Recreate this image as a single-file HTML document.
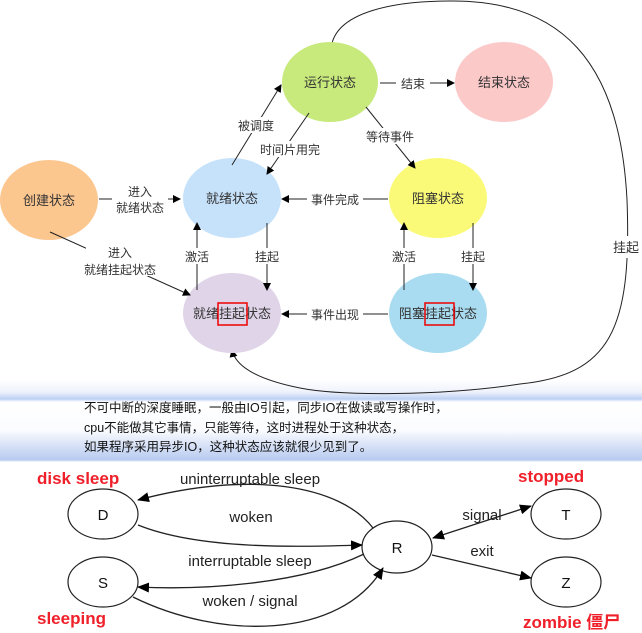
<!DOCTYPE html>
<html><head><meta charset="utf-8"><style>
html,body{margin:0;padding:0;background:#fff;}
body{width:642px;height:633px;overflow:hidden;position:relative;font-family:"Liberation Sans","Noto Sans CJK SC",sans-serif;}
svg{position:absolute;left:0;top:0;}
.band{position:absolute;left:0;top:380px;width:642px;height:82px;
background:linear-gradient(to bottom,#fff 0px,#eef2fb 12px,#bcd0f3 19px,#fff 22px,#fbfcff 50px,#dfe7f8 62px,#b7cbf0 80px,#fff 82px);}
.txt{position:absolute;left:84px;top:399px;font-size:12.5px;line-height:19.5px;color:#111;font-family:"Liberation Sans","Noto Sans CJK SC",sans-serif;}
</style></head><body>
<div class="band"></div>
<svg width="642" height="633" viewBox="0 0 642 633" font-family="Liberation Sans, Noto Sans CJK SC, sans-serif">
<defs>
<marker id="a2" markerWidth="8" markerHeight="8" refX="7" refY="4" orient="auto" markerUnits="userSpaceOnUse"><path d="M0,0 L8,4 L0,8 z" fill="#000"/></marker>
</defs>
<path d="M331,50 C333,10 400,1 450,1 C560,0 620,60 627,200 C632,330 610,375 520,384 C440,396 340,396 300,388 C260,380 236,368 232,350" fill="none" stroke="#222" stroke-width="1" marker-end="url(#a2)"/>
<rect x="610" y="236" width="30" height="22" fill="#fff"/>
<text x="626" y="252" font-size="13" text-anchor="middle" fill="#333">挂起</text>
<ellipse cx="330" cy="82" rx="48" ry="40" fill="#c8ea7c"/>
<ellipse cx="504" cy="82" rx="49" ry="40" fill="#fcc9c9"/>
<ellipse cx="49" cy="200" rx="49" ry="40" fill="#fcc68f"/>
<ellipse cx="232" cy="198" rx="49" ry="40" fill="#c6e2fb"/>
<ellipse cx="438" cy="198" rx="49" ry="40" fill="#fafa78"/>
<ellipse cx="232" cy="313" rx="49" ry="40" fill="#e0d4e8"/>
<ellipse cx="438" cy="313" rx="49" ry="40" fill="#a9dcf1"/>
<g font-size="13" fill="#333" text-anchor="middle">
<text x="330" y="87">运行状态</text>
<text x="504" y="87">结束状态</text>
<text x="49" y="205">创建状态</text>
<text x="232" y="203">就绪状态</text>
<text x="438" y="203">阻塞状态</text>
<text x="232" y="318">就绪挂起状态</text>
<text x="438" y="318">阻塞挂起状态</text>
</g>
<rect x="218" y="303" width="29" height="22" fill="none" stroke="#e00" stroke-width="1.5"/>
<rect x="425" y="303" width="29" height="22" fill="none" stroke="#e00" stroke-width="1.5"/>
<g stroke="#222" stroke-width="1" fill="none">
<line x1="380" y1="83" x2="454" y2="83" marker-end="url(#a2)"/>
<line x1="232" y1="165" x2="281" y2="85" marker-end="url(#a2)"/>
<line x1="309" y1="113" x2="267" y2="174" marker-end="url(#a2)"/>
<line x1="366" y1="107" x2="415" y2="168" marker-end="url(#a2)"/>
<line x1="99" y1="199" x2="180" y2="199" marker-end="url(#a2)"/>
<line x1="388" y1="199" x2="282" y2="199" marker-end="url(#a2)"/>
<line x1="50" y1="232" x2="190" y2="295" marker-end="url(#a2)"/>
<line x1="197" y1="290" x2="197" y2="223" marker-end="url(#a2)"/>
<line x1="267" y1="223" x2="267" y2="290" marker-end="url(#a2)"/>
<line x1="404" y1="290" x2="404" y2="223" marker-end="url(#a2)"/>
<line x1="473" y1="223" x2="473" y2="290" marker-end="url(#a2)"/>
<line x1="388" y1="314" x2="282" y2="314" marker-end="url(#a2)"/>
</g>
<g font-size="12" fill="#333" text-anchor="middle">
<rect x="396" y="75" width="34" height="16" fill="#fff"/><text x="413" y="88">结束</text>
<rect x="236" y="117" width="40" height="16" fill="#fff"/><text x="256" y="130">被调度</text>
<rect x="258" y="141" width="64" height="16" fill="#fff"/><text x="290" y="154">时间片用完</text>
<rect x="364" y="128" width="52" height="16" fill="#fff"/><text x="390" y="141">等待事件</text>
<rect x="112" y="184" width="56" height="32" fill="#fff"/><text x="140" y="196">进入</text><text x="140" y="212">就绪状态</text>
<rect x="307" y="191" width="56" height="16" fill="#fff"/><text x="335" y="204">事件完成</text>
<rect x="86" y="244" width="68" height="32" fill="#fff"/><text x="120" y="257">进入</text><text x="120" y="274">就绪挂起状态</text>
<rect x="183" y="248" width="28" height="16" fill="#fff"/><text x="197" y="261">激活</text>
<rect x="253" y="248" width="28" height="16" fill="#fff"/><text x="267" y="261">挂起</text>
<rect x="390" y="248" width="28" height="16" fill="#fff"/><text x="404" y="261">激活</text>
<rect x="459" y="248" width="28" height="16" fill="#fff"/><text x="473" y="261">挂起</text>
<rect x="307" y="306" width="56" height="16" fill="#fff"/><text x="335" y="319">事件出现</text>
</g>
</svg>
<div class="txt">不可中断的深度睡眠，一般由IO引起，同步IO在做读或写操作时，<br>cpu不能做其它事情，只能等待，这时进程处于这种状态，<br>如果程序采用异步IO，这种状态应该就很少见到了。</div>
<svg width="642" height="633" viewBox="0 0 642 633" font-family="Liberation Sans, DejaVu Sans, sans-serif">
<defs>
<marker id="c" markerWidth="12" markerHeight="10" refX="11" refY="5" orient="auto" markerUnits="userSpaceOnUse"><path d="M0,0 L12,5 L0,10 z" fill="#000"/></marker>
<marker id="cs" markerWidth="12" markerHeight="10" refX="1" refY="5" orient="auto" markerUnits="userSpaceOnUse"><path d="M12,0 L0,5 L12,10 z" fill="#000"/></marker>
</defs>
<g fill="#fff" stroke="#222" stroke-width="1.2">
<ellipse cx="103" cy="514" rx="35" ry="25"/>
<ellipse cx="103" cy="582" rx="35" ry="25"/>
<ellipse cx="397" cy="547" rx="35" ry="26"/>
<ellipse cx="566" cy="514" rx="35" ry="25"/>
<ellipse cx="566" cy="582" rx="35" ry="25"/>
</g>
<g font-size="15" text-anchor="middle" fill="#111">
<text x="103" y="520">D</text><text x="103" y="588">S</text><text x="397" y="553">R</text>
<text x="566" y="520">T</text><text x="566" y="588">Z</text>
</g>
<g stroke="#222" stroke-width="1.3" fill="none">
<path d="M373,528 C340,485 250,470 138,500" marker-end="url(#c)"/>
<path d="M138,525 C200,550 300,547 362,545" marker-end="url(#c)"/>
<path d="M364,554 C300,585 200,590 138,587" marker-end="url(#c)"/>
<path d="M133,597 C220,640 340,640 383,568" marker-end="url(#c)"/>
<line x1="433" y1="538" x2="531" y2="506" marker-start="url(#cs)" marker-end="url(#c)"/>
<line x1="432" y1="555" x2="531" y2="578" marker-end="url(#c)"/>
</g>
<g font-size="15" fill="#222" text-anchor="middle">
<text x="250" y="484">uninterruptable sleep</text>
<text x="251" y="522">woken</text>
<text x="250" y="566">interruptable sleep</text>
<text x="250" y="606">woken / signal</text>
<text x="482" y="520">signal</text>
<text x="482" y="556">exit</text>
</g>
<g font-size="17" font-weight="bold" fill="#f0202a" font-family="Liberation Sans, Noto Sans CJK SC, sans-serif">
<text x="37" y="484">disk sleep</text>
<text x="37" y="624">sleeping</text>
<text x="518" y="482">stopped</text>
<text x="523" y="628">zombie 僵尸</text>
</g>
</svg>
</body></html>
